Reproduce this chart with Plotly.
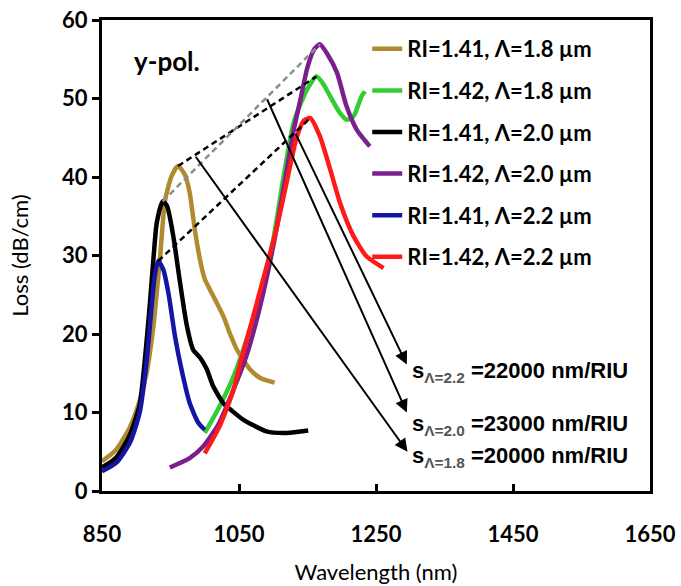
import numpy as np
import plotly.graph_objects as go

# ---------------- data ----------------
series_names = ["RI=1.41, Λ=1.8 µm", "RI=1.42, Λ=1.8 µm", "RI=1.41, Λ=2.0 µm",
                "RI=1.42, Λ=2.0 µm", "RI=1.41, Λ=2.2 µm", "RI=1.42, Λ=2.2 µm"]
series_colors = ["#B08A2E", "#33CC33", "#000000", "#7B1E8E", "#1414A6", "#FF1A1A"]

wl_141_18 = [850, 870, 890, 905, 915, 925, 935, 942, 952, 961, 971, 978, 986, 993, 1000,
             1015, 1027, 1037, 1047, 1066, 1081, 1102]
loss_141_18 = [3.8, 5.2, 8.0, 11.5, 15.0, 21.0, 30.0, 37.0, 40.2, 41.4, 40.3, 38.0, 33.0, 29.5, 27.0,
               24.4, 22.3, 20.0, 18.0, 15.5, 14.4, 13.8]

wl_142_18 = [1000, 1020, 1042, 1060, 1080, 1100, 1115, 1130, 1149, 1163, 1172, 1183, 1197,
             1207, 1217, 1229, 1234]
loss_142_18 = [7.4, 10.5, 14.6, 19.0, 24.5, 32.0, 40.0, 47.0, 51.1, 52.8, 52.0, 50.3, 48.2,
               47.3, 47.7, 50.3, 50.9]

wl_141_20 = [850, 870, 890, 905, 915, 920, 925, 930, 938.6, 945, 954, 964, 974, 983, 993, 1003,
             1012, 1027, 1040, 1056, 1090, 1120, 1151]
loss_141_20 = [3.0, 4.2, 7.0, 11.0, 19.0, 24.0, 29.5, 34.2, 36.9, 36.3, 32.5, 26.5, 21.0, 18.0, 17.0, 15.5,
               13.4, 11.2, 10.2, 9.1, 7.6, 7.4, 7.7]

wl_142_20 = [949, 978, 998, 1020, 1040, 1060, 1075, 1090, 1105, 1118, 1130, 1140, 1150, 1160,
             1168, 1178, 1193, 1207, 1222, 1241]
loss_142_20 = [3.0, 4.2, 5.7, 8.5, 12.5, 17.0, 21.5, 27.0, 33.5, 40.0, 46.0, 50.0, 54.0, 56.3,
               56.9, 55.8, 53.3, 49.0, 46.0, 43.9]

wl_141_22 = [850, 871, 891, 905, 915, 922, 927, 932, 939.5, 947, 956.6, 966, 978, 990.6, 1000]
loss_141_22 = [2.5, 3.6, 6.2, 10.0, 16.4, 23.1, 27.4, 29.3, 28.2, 25.2, 19.7, 15.5, 11.2, 8.7, 7.8]

wl_142_22 = [1000, 1022, 1042, 1051, 1070, 1090, 1105, 1120, 1134, 1145, 1154, 1168, 1183,
             1197.5, 1217, 1236, 1261]
loss_142_22 = [4.8, 8.3, 12.9, 16.0, 22.0, 28.5, 33.5, 39.5, 45.0, 47.2, 47.5, 45.2, 41.0,
               36.7, 32.5, 29.9, 28.4]

all_wl = [wl_141_18, wl_142_18, wl_141_20, wl_142_20, wl_141_22, wl_142_22]
all_loss = [loss_141_18, loss_142_18, loss_141_20, loss_142_20, loss_141_22, loss_142_22]

x_ticks = [850, 1050, 1250, 1450, 1650]
y_ticks = [0, 10, 20, 30, 40, 50, 60]

# peak-shift pairs (index of RI=1.41 series, index of RI=1.42 series), dash colours
peak_pairs = [(0, 1), (2, 3), (4, 5)]
pair_dash_colors = ["#000000", "#8C8C8C", "#000000"]
# sensitivity labels
sens_sub = ["Λ=1.8", "Λ=2.0", "Λ=2.2"]
sens_val = ["=20000 nm/RIU", "=23000 nm/RIU", "=22000 nm/RIU"]
sens_text_wl = [1300, 1300, 1300]
sens_text_loss = [4.3, 8.4, 15.2]
arrow_frac = [0.12, 0.66, 0.90]          # where each arrow leaves its dashed line
arrow_end_wl = [1296, 1295, 1295]
arrow_end_loss = [5.0, 10.0, 16.1]

# ---------------- figure ----------------
fig = go.Figure()

draw_order = [1, 0, 2, 4, 3, 5]
for i in draw_order:
    fig.add_trace(go.Scatter(
        x=all_wl[i], y=all_loss[i], mode="lines", name=series_names[i],
        line=dict(color=series_colors[i], width=4.5, shape="spline", smoothing=0.6),
        legendrank=i + 1, legendgroup=f"g{i}",
    ))

peaks = []
for w, l in zip(all_wl, all_loss):
    k = int(np.argmax(l))
    peaks.append((w[k], l[k]))

for (a, b), c in zip(peak_pairs, pair_dash_colors):
    fig.add_trace(go.Scatter(
        x=[peaks[a][0], peaks[b][0]], y=[peaks[a][1], peaks[b][1]], mode="lines",
        line=dict(color=c, width=2.5, dash="6px,4px"), showlegend=False, hoverinfo="skip"))

font_main = "Lato, 'Open Sans', sans-serif"

for j, (a, b) in enumerate(peak_pairs):
    f = arrow_frac[j]
    sx = peaks[a][0] + f * (peaks[b][0] - peaks[a][0])
    sy = peaks[a][1] + f * (peaks[b][1] - peaks[a][1])
    fig.add_annotation(x=arrow_end_wl[j], y=arrow_end_loss[j], ax=sx, ay=sy,
                       xref="x", yref="y", axref="x", ayref="y", text="",
                       showarrow=True, arrowhead=2, arrowsize=1.3, arrowwidth=2,
                       arrowcolor="black")
    fig.add_annotation(x=sens_text_wl[j], y=sens_text_loss[j], xref="x", yref="y",
                       xanchor="left", yanchor="middle", showarrow=False,
                       text=f"<b>s<sub><span style='color:#555'>{sens_sub[j]}</span></sub> {sens_val[j]}</b>",
                       font=dict(family="Liberation Sans, Arial, sans-serif", size=22, color="black"))

fig.add_annotation(x=0.055, y=0.913, xref="paper", yref="paper", xanchor="left",
                   yanchor="middle", showarrow=False, text="<b>y-pol.</b>",
                   font=dict(family=font_main, size=26, color="black"))

fig.update_layout(
    width=681, height=586,
    margin=dict(l=102, r=31, t=20, b=95),
    paper_bgcolor="white", plot_bgcolor="white",
    showlegend=True,
    legend=dict(x=0.484, y=0.983, xanchor="left", yanchor="top",
                bgcolor="rgba(0,0,0,0)", font=dict(family=font_main, size=22, color="black", weight="bold"),
                tracegroupgap=10, itemwidth=30),
    font=dict(family=font_main, color="black"),
)
fig.update_xaxes(range=[850, 1650], tickvals=x_ticks, ticks="inside", ticklen=7,
                 tickwidth=3, tickcolor="black", showline=True, linewidth=3, linecolor="black",
                 mirror=True, showgrid=False, zeroline=False, automargin=False,
                 tickfont=dict(family=font_main, size=22, color="black", weight="bold"),
                 ticklabelstandoff=22,
                 title=dict(text="Wavelength (nm)", font=dict(family=font_main, size=22), standoff=19))
fig.update_yaxes(range=[0, 60], tickvals=y_ticks, ticks="outside", ticklen=7,
                 tickwidth=3, tickcolor="black", showline=True, linewidth=3, linecolor="black",
                 mirror=True, showgrid=False, zeroline=False, automargin=False,
                 tickfont=dict(family=font_main, size=22, color="black", weight="bold"),
                 title=dict(text="Loss (dB/cm)", font=dict(family=font_main, size=22), standoff=28))

fig.write_html("out.html")
